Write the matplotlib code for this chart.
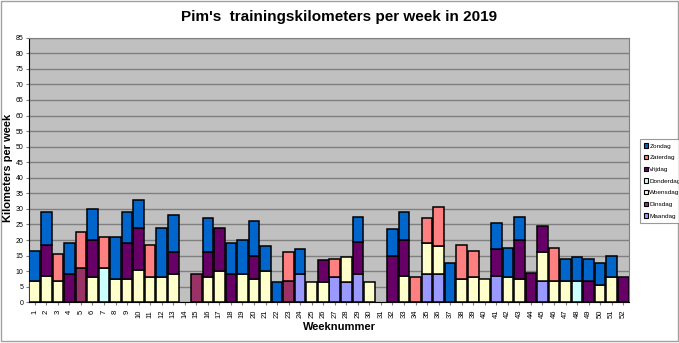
import matplotlib.pyplot as plt
from matplotlib.patches import Rectangle
import numpy as np

plt.rcParams['font.family'] = ['Liberation Sans', 'DejaVu Sans']

weeks = list(range(1, 53))

# km per weekday, per week (1..52)
maandag = [0, 0, 0, 0, 0, 0, 0, 0, 0, 0, 0, 0, 0,
           0, 0, 0, 0, 0, 0, 0, 0, 0, 0, 9, 0, 0,
           8, 6.5, 9, 0, 0, 0, 0, 0, 9, 9, 0, 0, 0,
           0, 8.5, 0, 0, 0, 7, 0, 0, 0, 0, 0, 0, 0]
dinsdag = [0, 0, 0, 0, 11, 0, 0, 0, 0, 0, 0, 0, 0,
           0, 9, 0, 0, 0, 0, 0, 0, 0, 7, 0, 0, 0,
           0, 0, 0, 0, 0, 0, 0, 0, 0, 0, 0, 0, 0,
           0, 0, 0, 0, 0, 0, 0, 0, 0, 0, 0, 0, 0]
woensdag = [7, 8.5, 7, 0, 0, 8, 0, 7.5, 7.5, 10.5, 8, 8, 9,
            0, 0, 8, 10, 0, 9, 7.5, 10, 0, 0, 0, 6.5, 6.5,
            0, 8, 0, 6.5, 0, 0, 8.5, 0, 10, 9, 0, 7.5, 8,
            7.5, 0, 8, 7.5, 0, 9, 7, 7, 0, 0, 5.5, 8, 0]
donderdag = [0, 0, 0, 0, 0, 0, 11, 0, 0, 0, 0, 0, 0,
             0, 0, 0, 0, 0, 0, 0, 0, 0, 0, 0, 0, 0,
             0, 0, 0, 0, 0, 0, 0, 0, 0, 0, 0, 0, 0,
             0, 0, 0, 0, 0, 0, 0, 0, 7, 0, 0, 0, 0]
vrijdag = [0, 10, 0, 9, 0, 12, 0, 0, 11.5, 13.5, 0, 0, 7,
           0, 0, 8, 14, 9, 0, 7.5, 0, 0, 0, 0, 0, 7,
           0, 0, 10.5, 0, 0, 15, 11.5, 0, 0, 0, 0, 0, 0,
           0, 8.5, 0, 12.5, 9.5, 8.5, 0, 0, 0, 7, 0, 0, 8]
zaterdag = [0, 0, 8.5, 0, 11.5, 0, 10, 0, 0, 0, 10.5, 0, 0,
            0, 0, 0, 0, 0, 0, 0, 0, 0, 9, 0, 0, 0,
            6, 0, 0, 0, 0, 0, 0, 8, 8, 12.5, 0, 11, 8.5,
            0, 0, 0, 0, 0, 0, 10.5, 0, 0, 0, 0, 0, 0]
zondag = [9.5, 10.5, 0, 10, 0, 10, 0, 13.5, 10, 9, 0, 16, 12,
          0, 0, 11, 0, 10, 11, 11, 8, 6.5, 0, 8, 0, 0,
          0, 0, 8, 0, 0, 8.5, 9, 0, 0, 0, 12.5, 0, 0,
          0, 8.5, 9.5, 7.5, 0, 0, 0, 7, 7.5, 7, 7, 7, 0]

series = [("Maandag", maandag, "#9999FF"),
          ("Dinsdag", dinsdag, "#993366"),
          ("Woensdag", woensdag, "#FFFFCC"),
          ("Donderdag", donderdag, "#CCFFFF"),
          ("Vrijdag", vrijdag, "#660066"),
          ("Zaterdag", zaterdag, "#FF8080"),
          ("Zondag", zondag, "#0066CC")]

fig = plt.figure(figsize=(6.79, 3.43), dpi=100)
ax = fig.add_axes([29 / 679, 1 - 302.3 / 343, 600 / 679, (302.3 - 37.7) / 343])
ax.set_facecolor("#C0C0C0")

bottom = np.zeros(len(weeks))
handles = []
for name, vals, col in series:
    vals = np.array(vals, dtype=float)
    mask = vals > 0
    h = ax.bar(np.array(weeks)[mask], vals[mask], bottom=bottom[mask], width=0.92,
               color=col, edgecolor="black", linewidth=1.1, label=name, zorder=3)
    handles.append(h)
    bottom += vals

ax.set_xlim(0.5, 52.5)
ax.set_ylim(0, 85)
ax.set_yticks(range(0, 90, 5))
ax.set_xticks(weeks)
ax.set_xticklabels([str(w) for w in weeks], rotation=90, fontsize=5.5)
ax.tick_params(axis="y", labelsize=5, length=2, pad=2, color="#808080")
ax.tick_params(axis="x", length=2, color="#808080")
ax.yaxis.grid(True, color="#808080", linewidth=1.0, zorder=0)
ax.set_axisbelow(True)
for s in ax.spines.values():
    s.set_color("#808080")
ax.spines["left"].set_color("black")
ax.spines["bottom"].set_color("black")

fig.text(0.5, 1 - 17 / 343, "Pim's  trainingskilometers per week in 2019",
         ha="center", va="center", fontsize=11, fontweight="bold")
fig.text(339 / 679, 1 - 327 / 343, "Weeknummer", ha="center", va="center",
         fontsize=8, fontweight="bold")
fig.text(8 / 679, 1 - 168 / 343, "Kilometers per week", ha="center", va="center",
         rotation=90, fontsize=8, fontweight="bold")

leg = fig.legend(handles=handles[::-1], labels=[s[0] for s in series][::-1],
                 loc="upper left", bbox_to_anchor=(640 / 679, 1 - 139 / 343),
                 fontsize=4.6, frameon=True, fancybox=False, borderpad=0.7,
                 labelspacing=1.0, handlelength=0.6, handleheight=0.6,
                 handletextpad=0.15, borderaxespad=0)
leg.get_frame().set_edgecolor("#808080")
leg.get_frame().set_linewidth(0.8)
for p in leg.get_patches():
    p.set_linewidth(0.8)

fig.patches.append(Rectangle((0.002, 0.006), 0.996, 0.99, transform=fig.transFigure,
                             fill=False, edgecolor="#A0A0A0", linewidth=1.0))

fig.savefig("out.png", dpi=100)
